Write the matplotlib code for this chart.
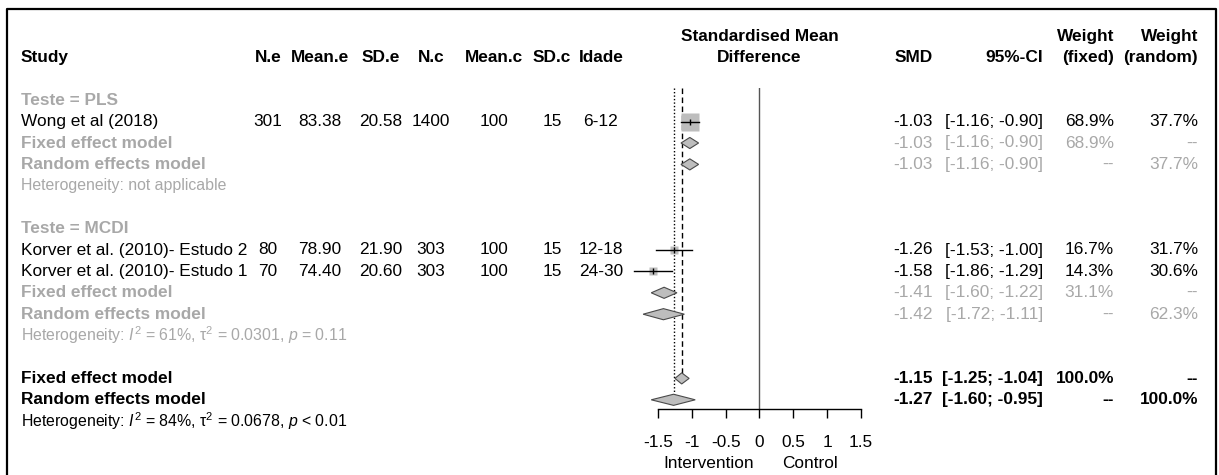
# -*- coding: utf-8 -*-
#
import matplotlib.pyplot as plt
import matplotlib.transforms as mtransforms
from matplotlib.patches import Polygon
from matplotlib.lines import Line2D
import numpy as np

plt.rcParams['font.family'] = ['Liberation Sans', 'DejaVu Sans']
plt.rcParams['mathtext.fontset'] = 'custom'
plt.rcParams['mathtext.rm'] = 'Liberation Sans'
plt.rcParams['mathtext.it'] = 'Liberation Sans:italic'
plt.rcParams['mathtext.bf'] = 'Liberation Sans:bold'
plt.rcParams['axes.unicode_minus'] = False

# ---- data ----
groups = ['PLS', 'MCDI']
study = ['Wong et al (2018)', 'Korver et al. (2010)- Estudo 2',
         'Korver et al. (2010)- Estudo 1']
study_group = ['PLS', 'MCDI', 'MCDI']
n_e = [301, 80, 70]
mean_e = [83.38, 78.90, 74.40]
sd_e = [20.58, 21.90, 20.60]
n_c = [1400, 303, 303]
mean_c = [100, 100, 100]
sd_c = [15, 15, 15]
idade = ['6-12', '12-18', '24-30']
smd = [-1.03, -1.26, -1.58]
ci_lo = [-1.16, -1.53, -1.86]
ci_hi = [-0.90, -1.00, -1.29]
w_fixed = [68.9, 16.7, 14.3]
w_random = [37.7, 31.7, 30.6]

# subgroup summaries: (est, lo, hi)
sub_fixed = {'PLS': (-1.03, -1.16, -0.90), 'MCDI': (-1.41, -1.60, -1.22)}
sub_random = {'PLS': (-1.03, -1.16, -0.90), 'MCDI': (-1.42, -1.72, -1.11)}
sub_w_fixed = {'PLS': 68.9, 'MCDI': 31.1}
sub_w_random = {'PLS': 37.7, 'MCDI': 62.3}
sub_het = {'PLS': 'Heterogeneity: not applicable',
           'MCDI': r'Heterogeneity: $I^2$ = 61%, $\mathrm{\tau}^2$ = 0.0301, $p$ = 0.11'}

overall_fixed = (-1.15, -1.25, -1.04)
overall_random = (-1.27, -1.60, -0.95)
overall_het = r'Heterogeneity: $I^2$ = 84%, $\mathrm{\tau}^2$ = 0.0678, $p$ < 0.01'

xticks = [-1.5, -1, -0.5, 0, 0.5, 1, 1.5]
xticklabels = ['-1.5', '-1', '-0.5', '0', '0.5', '1', '1.5']

# ---- layout ----
W, H = 1219, 475
ROW0, ROWH = 36.0, 21.4          # pixel y of row 0, row height
FS, FS_HET = 12.4, 11.4
GRAY = '#a8a8a8'
BOX = '#bdbdbd'


def rowpx(r):
    return ROW0 + ROWH * r


fig = plt.figure(figsize=(W / 100, H / 100), dpi=100)
ax = fig.add_axes([0, 0, 1, 1])
ax.set_xlim(0, W)
ax.set_ylim((H - ROW0) / ROWH, -ROW0 / ROWH)
ax.axis('off')

top_r, bot_r = 2.45, 17.45
fa = fig.add_axes([658 / W, 1 - rowpx(bot_r) / H, 203 / W,
                   (rowpx(bot_r) - rowpx(top_r)) / H])
fa.set_xlim(-1.5, 1.5)
fa.set_ylim(bot_r, top_r)
fa.patch.set_alpha(0)
for s in ['top', 'left', 'right']:
    fa.spines[s].set_visible(False)
fa.spines['bottom'].set_linewidth(1.0)
fa.set_yticks([])
fa.set_xticks(xticks)
fa.set_xticklabels(xticklabels, fontsize=FS)
fa.tick_params(axis='x', direction='out', length=6.5, width=1.0, pad=12)

# column x positions (pixels)
X_STUDY = 21
COLS_C = {'N.e': 268, 'Mean.e': 320, 'SD.e': 381, 'N.c': 431,
          'Mean.c': 494, 'SD.c': 552, 'Idade': 601}
X_SMD, X_CI, X_WF, X_WR = 933, 1043, 1114, 1198


def txt(x, r, s, ha='left', color='black', bold=False, size=FS):
    ax.text(x, r, s, ha=ha, va='center', color=color, fontsize=size,
            fontweight='bold' if bold else 'normal')


# header
txt(X_STUDY, 1, 'Study', bold=True)
for k, x in COLS_C.items():
    txt(x, 1, k, ha='center', bold=True)
txt(X_SMD, 1, 'SMD', ha='right', bold=True)
txt(X_CI, 1, '95%-CI', ha='right', bold=True)
txt(X_WF, 0, 'Weight', ha='right', bold=True)
txt(X_WF, 1, '(fixed)', ha='right', bold=True)
txt(X_WR, 0, 'Weight', ha='right', bold=True)
txt(X_WR, 1, '(random)', ha='right', bold=True)
blend = mtransforms.blended_transform_factory(fa.transData, ax.transData)
ax.text(0, 0, 'Standardised Mean', transform=blend, ha='center', va='center',
        fontsize=FS, fontweight='bold')
ax.text(0, 1, 'Difference', transform=blend, ha='center', va='center',
        fontsize=FS, fontweight='bold')


def diamond(est, lo, hi, r, h=0.26):
    fa.add_patch(Polygon([[lo, r], [est, r - h], [hi, r], [est, r + h]],
                         closed=True, facecolor=BOX, edgecolor='#4a4a4a',
                         lw=0.8, clip_on=False, zorder=4))


def summary_row(r, label, est, lo, hi, wf, wr, color, bold_nums):
    txt(X_STUDY, r, label, color=color, bold=True)
    txt(X_SMD, r, '%.2f' % est, ha='right', color=color, bold=bold_nums)
    txt(X_CI, r, '[%.2f; %.2f]' % (lo, hi), ha='right', color=color,
        bold=bold_nums)
    txt(X_WF, r, wf, ha='right', color=color, bold=bold_nums)
    txt(X_WR, r, wr, ha='right', color=color, bold=bold_nums)
    diamond(est, lo, hi, r)


wmax = max(w_fixed)
r = 3
for g in groups:
    txt(X_STUDY, r, 'Teste = %s' % g, color=GRAY, bold=True)
    r += 1
    for i in range(len(study)):
        if study_group[i] != g:
            continue
        txt(X_STUDY, r, study[i])
        vals = {'N.e': str(n_e[i]), 'Mean.e': '%.2f' % mean_e[i],
                'SD.e': '%.2f' % sd_e[i], 'N.c': str(n_c[i]),
                'Mean.c': str(mean_c[i]), 'SD.c': str(sd_c[i]),
                'Idade': idade[i]}
        for k, x in COLS_C.items():
            txt(x, r, vals[k], ha='center')
        txt(X_SMD, r, '%.2f' % smd[i], ha='right')
        txt(X_CI, r, '[%.2f; %.2f]' % (ci_lo[i], ci_hi[i]), ha='right')
        txt(X_WF, r, '%.1f%%' % w_fixed[i], ha='right')
        txt(X_WR, r, '%.1f%%' % w_random[i], ha='right')
        ms = 13 * np.sqrt(w_fixed[i] / wmax)
        fa.plot([smd[i]], [r], marker='s', ms=ms, color=BOX, mec='none',
                zorder=2, clip_on=False)
        fa.plot([ci_lo[i], ci_hi[i]], [r, r], color='black', lw=1.0,
                zorder=3, clip_on=False)
        fa.plot([smd[i]], [r], marker='|', ms=4.5, mew=1.0, color='black',
                zorder=3, clip_on=False)
        r += 1
    e, lo, hi = sub_fixed[g]
    summary_row(r, 'Fixed effect model', e, lo, hi,
                '%.1f%%' % sub_w_fixed[g], '--', GRAY, False)
    r += 1
    e, lo, hi = sub_random[g]
    summary_row(r, 'Random effects model', e, lo, hi,
                '--', '%.1f%%' % sub_w_random[g], GRAY, False)
    r += 1
    txt(X_STUDY, r, sub_het[g], color=GRAY, size=FS_HET)
    r += 2

fixed_r = r
summary_row(r, 'Fixed effect model', *overall_fixed, '100.0%', '--',
            'black', True)
r += 1
random_r = r
summary_row(r, 'Random effects model', *overall_random, '--', '100.0%',
            'black', True)
r += 1
txt(X_STUDY, r, overall_het, size=FS_HET)

# reference lines
fa.axvline(0, color='#555555', lw=1.0, zorder=1)
fa.vlines(overall_fixed[0], top_r, fixed_r, colors='black', lw=1.0,
          linestyles=(0, (4, 2.5)), zorder=1)
fa.vlines(overall_random[0], top_r, random_r, colors='black', lw=1.0,
          linestyles=(0, (1, 1.5)), zorder=1)

ax.text(-0.75, 20, 'Intervention', transform=blend, ha='center',
        va='center', fontsize=FS)
ax.text(0.75, 20, 'Control', transform=blend, ha='center', va='center',
        fontsize=FS)

# outer frame
fx0, fx1, fy0 = 7 / W, 1216 / W, 1 - 9 / H
fig.add_artist(Line2D([fx0, fx0, fx1, fx1], [-0.01, fy0, fy0, -0.01],
                      transform=fig.transFigure, color='black', lw=1.6))

fig.savefig('out.png', dpi=100)
